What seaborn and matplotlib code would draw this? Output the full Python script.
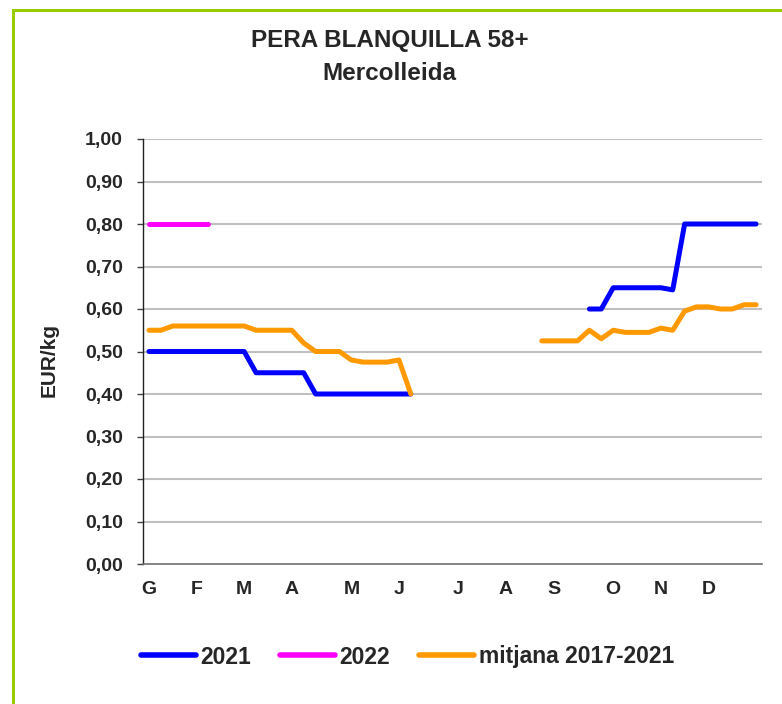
import matplotlib
matplotlib.use("Agg")
import matplotlib.pyplot as plt
from matplotlib.lines import Line2D
from matplotlib.patches import Rectangle
import seaborn as sns
import pandas as pd
import numpy as np

# weekly prices (EUR/kg), 52 weeks, None = no quotation
weeks = list(range(1, 53))

preu_2021 = [0.50, 0.50, 0.50, 0.50, 0.50, 0.50, 0.50, 0.50, 0.50, 0.45,
             0.45, 0.45, 0.45, 0.45, 0.40, 0.40, 0.40, 0.40, 0.40, 0.40,
             0.40, 0.40, 0.40, None, None, None, None, None, None, None,
             None, None, None, None, None, None, None, 0.60, 0.60, 0.65,
             0.65, 0.65, 0.65, 0.65, 0.645, 0.80, 0.80, 0.80, 0.80, 0.80,
             0.80, 0.80]

preu_2022 = [0.80, 0.80, 0.80, 0.80, 0.80, 0.80, None, None, None, None,
             None, None, None, None, None, None, None, None, None, None,
             None, None, None, None, None, None, None, None, None, None,
             None, None, None, None, None, None, None, None, None, None,
             None, None, None, None, None, None, None, None, None, None,
             None, None]

mitjana = [0.55, 0.55, 0.56, 0.56, 0.56, 0.56, 0.56, 0.56, 0.56, 0.55,
           0.55, 0.55, 0.55, 0.52, 0.50, 0.50, 0.50, 0.48, 0.475, 0.475,
           0.475, 0.48, 0.40, None, None, None, None, None, None, None,
           None, None, None, 0.525, 0.525, 0.525, 0.525, 0.55, 0.53, 0.55,
           0.545, 0.545, 0.545, 0.555, 0.55, 0.595, 0.605, 0.605, 0.60, 0.60,
           0.61, 0.61]

month_labels = ["G", "F", "M", "A", "M", "J", "J", "A", "S", "O", "N", "D"]
month_weeks = [1, 5, 9, 13, 18, 22, 27, 31, 35, 40, 44, 48]

series_names = ["2021", "2022", "mitjana 2017-2021"]
series_colors = ["#0000FF", "#FF00FF", "#FF9900"]

# long-form table, each unbroken run gets its own segment id
rows = []
for name, values in zip(series_names, [preu_2021, preu_2022, mitjana]):
    seg = 0
    prev_none = True
    for w, v in zip(weeks, values):
        if v is None:
            prev_none = True
            continue
        if prev_none:
            seg += 1
            prev_none = False
        rows.append({"week": w, "preu": v, "serie": name, "seg": f"{name}_{seg}"})
df = pd.DataFrame(rows)

sns.set_style("white")
plt.rcParams["font.family"] = ["Liberation Sans", "DejaVu Sans"]
plt.rcParams["font.weight"] = "bold"

fig = plt.figure(figsize=(7.82, 7.04), dpi=100)
ax = fig.add_axes([143 / 782, 1 - 564 / 704, 619 / 782, 425 / 704])

# gridlines
for yv in np.arange(0.1, 1.01, 0.1):
    ax.axhline(yv, color="#C0C0C0", lw=1.5, zorder=0)

sns.lineplot(data=df, x="week", y="preu", hue="serie", units="seg",
             estimator=None, palette=dict(zip(series_names, series_colors)),
             hue_order=series_names, lw=3.6, legend=False, ax=ax,
             solid_capstyle="round", solid_joinstyle="round")

ax.set_xlim(0.5, 52.5)
ax.set_ylim(0, 1.0)
ax.set_yticks(np.arange(0, 1.01, 0.1))
ax.set_yticklabels([f"{v:.2f}".replace(".", ",") for v in np.arange(0, 1.01, 0.1)],
                   fontsize=14, fontweight="bold")
ax.set_xticks(month_weeks)
ax.set_xticklabels(month_labels, fontsize=14, fontweight="bold")
ax.set_xticks(np.arange(0.5, 53, 1), minor=True)
ax.tick_params(axis="x", which="major", length=0, pad=12)
ax.tick_params(axis="x", which="minor", length=4.5, width=1, color="#505050", direction="out")
ax.tick_params(axis="y", which="major", length=4.5, width=1, color="#404040", direction="out", pad=10, left=True)

for side in ["top", "right"]:
    ax.spines[side].set_visible(False)
ax.spines["left"].set_color("#202020")
ax.spines["bottom"].set_color("#707070")
ax.spines["left"].set_linewidth(1)
ax.spines["bottom"].set_linewidth(1.2)

ax.set_xlabel("")
ax.set_ylabel("EUR/kg", fontsize=15, fontweight="bold")
ax.yaxis.set_label_coords(-0.137, 0.48)

fig.text(0.498, 1 - 41 / 704, "PERA BLANQUILLA 58+", ha="center", va="center",
         fontsize=17.5, fontweight="bold")
fig.text(0.498, 1 - 74 / 704, "Mercolleida", ha="center", va="center",
         fontsize=17.5, fontweight="bold")

handles = [Line2D([0], [0], color=c, lw=4, solid_capstyle="round") for c in series_colors]
fig.legend(handles, series_names, loc="center", bbox_to_anchor=(0.521, 1 - 657 / 704),
           ncol=3, frameon=False, handlelength=2.4, handletextpad=0.2,
           columnspacing=1.25, prop={"size": 16.5, "weight": "bold"})

# green frame
fig.patches.append(Rectangle((13 / 782, -0.2), 1.5, 1.2 - 10 / 704, transform=fig.transFigure,
                             fill=False, ec="#99CC00", lw=2.2))

fig.savefig("out.png", dpi=100, facecolor="white")
plt.close(fig)
